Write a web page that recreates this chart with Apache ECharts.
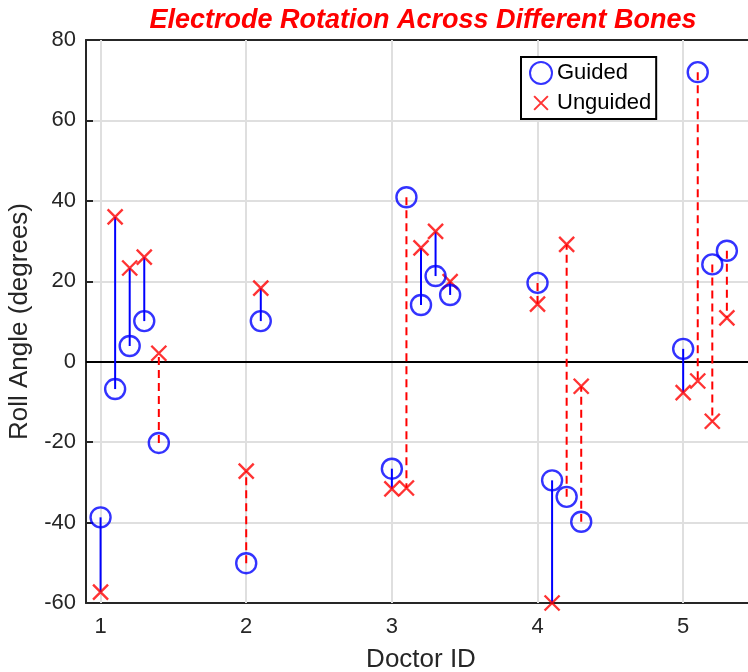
<!DOCTYPE html>
<html>
<head>
<meta charset="utf-8">
<title>Electrode Rotation Across Different Bones</title>
<script src="https://cdn.jsdelivr.net/npm/echarts@6.0.0/dist/echarts.min.js"></script>
<style>
  html, body { margin: 0; padding: 0; background: #ffffff; }
  #chart { width: 748px; height: 672px; }
</style>
</head>
<body>
<div id="chart"></div>
<script>
// Each case sits at its doctor's ID plus a small offset (0.1 per case)
const xPositions = [1.0, 1.1, 1.2, 1.3, 1.4,
                    2.0, 2.1,
                    3.0, 3.1, 3.2, 3.3, 3.4,
                    4.0, 4.1, 4.2, 4.3,
                    5.0, 5.1, 5.2, 5.3];
// Roll angle (degrees) with and without the guide
const guided   = [-38.7, -6.8, 3.9, 10.1, -20.2,
                  -50.1, 10.1,
                  -26.6, 40.9, 14.1, 21.3, 16.6,
                  19.6, -29.5, -33.6, -39.8,
                  3.2, 72.0, 24.2, 27.6];
const unguided = [-57.3, 36.0, 23.3, 26.0, 2.1,
                  -27.2, 18.3,
                  -31.6, -31.4, 28.3, 32.4, 19.9,
                  14.3, -60.0, 29.2, -6.1,
                  -7.7, -4.8, -14.8, 10.9];
const doctorTicks = [1, 2, 3, 4, 5];

const FONT = '"Liberation Sans", Arial, Helvetica, sans-serif';
const AXIS_COLOR = '#262626';
const GRID_COLOR = '#dfdfdf';
const CROSS = 'path://M0,0L10,10M10,0L0,10';

const pairData = xPositions.map((x, i) => [x, guided[i], unguided[i]]);
const guidedData = xPositions.map((x, i) => [x, guided[i]]);
const unguidedData = xPositions.map((x, i) => [x, unguided[i]]);

const chart = echarts.init(document.getElementById('chart'), null, { renderer: 'canvas' });

const frameLine = { show: true, onZero: false, lineStyle: { color: AXIS_COLOR, width: 2 } };
const tickStyle = { color: AXIS_COLOR, width: 2 };
const xCommon = { type: 'value', min: 0.9, max: 5.5, axisLine: frameLine };
const yCommon = { type: 'value', min: -60, max: 80, interval: 20, axisLine: frameLine };

chart.setOption({
  animation: false,
  backgroundColor: '#ffffff',
  title: {
    text: 'Electrode Rotation Across Different Bones',
    left: 418,
    top: 2,
    textAlign: 'center',
    textStyle: {
      fontFamily: FONT,
      fontSize: 27,
      fontWeight: 'bold',
      fontStyle: 'italic',
      color: '#ff0000'
    }
  },
  grid: {
    left: 86, top: 40, width: 670, height: 563,
    containLabel: false,
    outerBoundsMode: 'none'
  },
  legend: {
    orient: 'vertical',
    left: 521,
    top: 57,
    padding: [4, 5, 4, 8],
    itemGap: 6,
    itemWidth: 22,
    itemHeight: 22,
    z: 30,
    backgroundColor: '#ffffff',
    borderColor: '#000000',
    borderWidth: 2,
    borderRadius: 0,
    textStyle: { fontFamily: FONT, fontSize: 22, color: '#000000' },
    data: [
      { name: 'Guided' },
      // legend cross padded so it draws smaller than the circle
      { name: 'Unguided', icon: 'path://M-3,-3L-3,-3M0,0L10,10M10,0L0,10M13,13L13,13' }
    ]
  },
  xAxis: [
    Object.assign({}, xCommon, {
      position: 'bottom',
      name: 'Doctor ID',
      nameLocation: 'middle',
      nameGap: 44,
      nameTextStyle: { fontFamily: FONT, fontSize: 26, color: AXIS_COLOR },
      axisTick: { show: true, inside: true, length: 7, customValues: doctorTicks, lineStyle: tickStyle },
      axisLabel: { show: true, customValues: doctorTicks, margin: 13,
                   fontFamily: FONT, fontSize: 22, color: AXIS_COLOR },
      splitLine: { show: false }
    }),
    Object.assign({}, xCommon, {
      position: 'top',
      axisTick: { show: true, inside: true, length: 7, customValues: doctorTicks, lineStyle: tickStyle },
      axisLabel: { show: false },
      splitLine: { show: false }
    })
  ],
  yAxis: [
    Object.assign({}, yCommon, {
      position: 'left',
      name: 'Roll Angle (degrees)',
      nameLocation: 'middle',
      nameGap: 43,
      nameTextStyle: { fontFamily: FONT, fontSize: 26, color: AXIS_COLOR },
      axisTick: { show: true, inside: true, length: 7, lineStyle: tickStyle },
      axisLabel: { show: true, margin: 10, fontFamily: FONT, fontSize: 22, color: AXIS_COLOR },
      splitLine: { show: true, showMinLine: false, showMaxLine: false,
                   lineStyle: { color: GRID_COLOR, width: 2 } }
    }),
    Object.assign({}, yCommon, {
      position: 'right',
      axisTick: { show: true, inside: true, length: 7, lineStyle: tickStyle },
      axisLabel: { show: false },
      splitLine: { show: false }
    })
  ],
  series: [
    {
      // vertical grid lines at each doctor
      type: 'line',
      data: [],
      silent: true,
      z: 1,
      markLine: {
        silent: true,
        z: 1,
        symbol: ['none', 'none'],
        label: { show: false },
        animation: false,
        lineStyle: { color: GRID_COLOR, width: 2, type: 'solid' },
        data: doctorTicks.map(v => ({ xAxis: v }))
      }
    },
    {
      // zero reference line
      type: 'line',
      data: [],
      silent: true,
      z: 5,
      markLine: {
        silent: true,
        z: 5,
        symbol: ['none', 'none'],
        label: { show: false },
        animation: false,
        lineStyle: { color: '#000000', width: 2, type: 'solid' },
        data: [{ yAxis: 0 }]
      }
    },
    {
      // connector between guided and unguided angle of each case:
      // solid blue when the guide reduced the rotation, dashed red otherwise
      type: 'custom',
      z: 10,
      silent: true,
      data: pairData,
      renderItem: function (params, api) {
        const x = api.value(0), g = api.value(1), u = api.value(2);
        const p1 = api.coord([x, g]);
        const p2 = api.coord([x, u]);
        const improved = Math.abs(g) <= Math.abs(u);
        return {
          type: 'line',
          shape: { x1: p1[0], y1: p1[1], x2: p2[0], y2: p2[1] },
          style: {
            stroke: improved ? '#0000ff' : '#ff0000',
            lineWidth: 2,
            lineDash: improved ? null : [8, 5]
          }
        };
      }
    },
    {
      name: 'Guided',
      type: 'scatter',
      z: 12,
      data: guidedData,
      symbol: 'circle',
      symbolSize: 20,
      itemStyle: { color: 'rgba(0,0,0,0)', borderColor: '#0000ff', borderWidth: 2.4 }
    },
    {
      name: 'Unguided',
      type: 'scatter',
      z: 11,
      data: unguidedData,
      symbol: CROSS,
      symbolSize: 15,
      itemStyle: { color: 'rgba(0,0,0,0)', borderColor: '#ff0000', borderWidth: 2.4 }
    }
  ]
});
</script>
</body>
</html>
